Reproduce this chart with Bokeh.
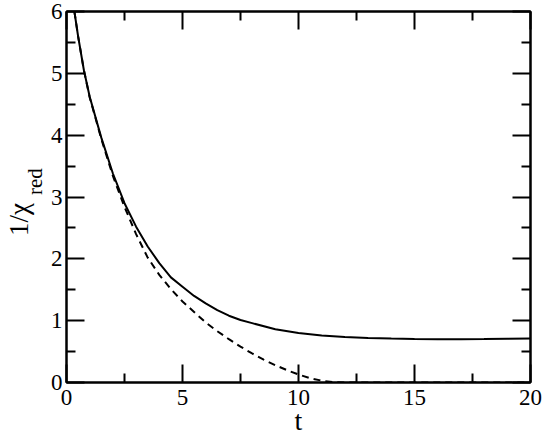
from bokeh.plotting import figure
from bokeh.models import Range1d, LinearAxis, FixedTicker
from bokeh.embed import file_html
from bokeh.resources import INLINE

# Solid curve
t_solid = [0.34, 0.5, 0.75, 1.0, 1.5, 2.0, 2.5, 3.0, 3.5, 4.0, 4.5, 5.0, 5.5,
           6.0, 6.5, 7.0, 7.5, 8.0, 9.0, 10.0, 11.0, 12.0, 13.0, 14.0, 15.0,
           16.0, 17.0, 18.0, 19.0, 20.0]
chi_solid = [6.0, 5.6, 5.05, 4.62, 3.96, 3.38, 2.90, 2.52, 2.20, 1.93, 1.70,
             1.55, 1.40, 1.28, 1.17, 1.08, 1.01, 0.96, 0.86, 0.80, 0.76, 0.735,
             0.72, 0.71, 0.703, 0.70, 0.70, 0.703, 0.708, 0.713]

# Dashed curve
t_dashed = [0.34, 0.5, 0.75, 1.0, 1.5, 2.0, 2.5, 3.0, 3.5, 4.0, 4.5, 5.0, 5.5,
            6.0, 6.5, 7.0, 7.5, 8.0, 8.5, 9.0, 9.5, 10.0, 10.5, 11.0, 11.5,
            12.0, 14.0, 16.0, 18.0, 20.0]
chi_dashed = [6.0, 5.6, 5.05, 4.61, 3.94, 3.34, 2.84, 2.40, 2.02, 1.74, 1.51,
              1.31, 1.14, 0.97, 0.83, 0.70, 0.58, 0.47, 0.37, 0.28, 0.20, 0.13,
              0.07, 0.03, 0.005, 0.0, 0.0, 0.0, 0.0, 0.0]

x_ticks = [0, 5, 10, 15, 20]
x_minor = [2.5, 7.5, 12.5, 17.5]
y_ticks = [0, 1, 2, 3, 4, 5, 6]
y_minor = [0.5, 1.5, 2.5, 3.5, 4.5, 5.5]

x_label = "t"
y_label_main = "1/χ"
y_label_sub = "red"

# layout: where along the y axis the two parts of the y-axis title sit
Y_MAIN_AT = 2.636
Y_SUB_AT = 3.25

SERIF = "'Liberation Serif', 'Times New Roman', serif"

p = figure(width=545, height=439, output_backend="svg", toolbar_location=None,
           x_range=Range1d(0, 20), y_range=Range1d(0, 6),
           min_border_left=66, min_border_right=15, min_border_top=11,
           min_border_bottom=57)
p.grid.visible = False
p.background_fill_color = "white"
p.border_fill_color = "white"
p.outline_line_color = "black"
p.outline_line_width = 2


def style_axis(ax, show_labels=True, standoff=4):
    ax.axis_line_color = "black"
    ax.axis_line_width = 2
    ax.major_tick_in = 18
    ax.major_tick_out = 0
    ax.minor_tick_in = 9
    ax.minor_tick_out = 0
    ax.major_tick_line_width = 2
    ax.minor_tick_line_width = 2
    ax.major_tick_line_color = "black"
    ax.minor_tick_line_color = "black"
    ax.major_label_text_font = SERIF
    ax.major_label_text_color = "black"
    if show_labels:
        ax.major_label_text_font_size = "23px"
        ax.major_label_standoff = standoff
    else:
        ax.major_label_text_font_size = "0px"
        ax.major_label_text_color = None
        ax.major_label_standoff = 0


def title_axis(text, at, size, standoff):
    ax = LinearAxis(ticker=FixedTicker(ticks=[at], minor_ticks=[]))
    ax.major_label_overrides = {at: text}
    ax.axis_line_color = None
    ax.major_tick_line_color = None
    ax.minor_tick_line_color = None
    ax.major_tick_in = 0
    ax.major_tick_out = 0
    ax.minor_tick_in = 0
    ax.minor_tick_out = 0
    ax.major_label_orientation = "vertical"
    ax.major_label_text_font = SERIF
    ax.major_label_text_font_size = size
    ax.major_label_text_color = "black"
    ax.major_label_standoff = standoff
    return ax


p.xaxis.ticker = FixedTicker(ticks=x_ticks, minor_ticks=x_minor)
p.yaxis.ticker = FixedTicker(ticks=y_ticks, minor_ticks=y_minor)
style_axis(p.xaxis[0], standoff=7)
style_axis(p.yaxis[0], standoff=4)
p.xaxis.axis_label = x_label
p.xaxis.axis_label_text_font = SERIF
p.xaxis.axis_label_text_font_size = "28px"
p.xaxis.axis_label_text_font_style = "normal"
p.xaxis.axis_label_text_color = "black"
p.xaxis.axis_label_standoff = -3

top_axis = LinearAxis(ticker=FixedTicker(ticks=x_ticks, minor_ticks=x_minor))
right_axis = LinearAxis(ticker=FixedTicker(ticks=y_ticks, minor_ticks=y_minor))
style_axis(top_axis, show_labels=False)
style_axis(right_axis, show_labels=False)
p.add_layout(top_axis, "above")
p.add_layout(right_axis, "right")

# y-axis title: "1/χ" with subscript "red", drawn as two extra label-only axes
p.add_layout(title_axis(y_label_sub, Y_SUB_AT, "21px", 0), "left")
p.add_layout(title_axis(y_label_main, Y_MAIN_AT, "27px", -14), "left")

p.line(t_solid, chi_solid, line_color="black", line_width=2)
p.line(t_dashed, chi_dashed, line_color="black", line_width=2, line_dash="7 5")

open("out.html", "w").write(file_html(p, INLINE))
